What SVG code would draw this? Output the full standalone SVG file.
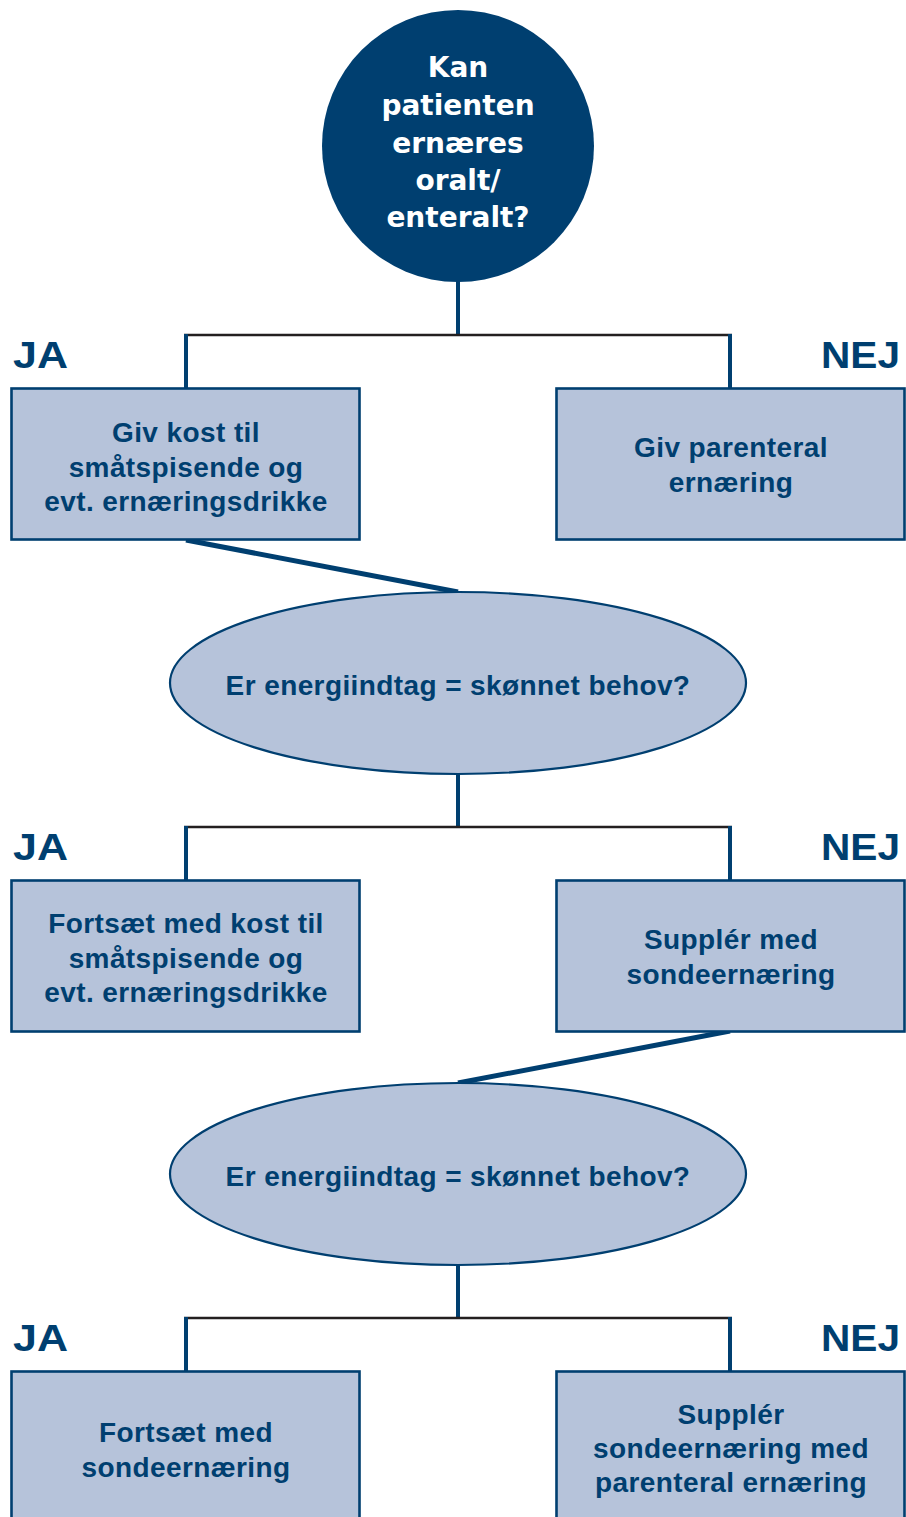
<svg xmlns="http://www.w3.org/2000/svg" width="906" height="1517" viewBox="0 0 906 1517">
<style>
.box{fill:#b6c3da;stroke:#003f70;stroke-width:2.6}
.ell{fill:#b6c3da;stroke:#003f70;stroke-width:2.2}
.t{font-family:"Liberation Sans",Arial,sans-serif;font-weight:bold;font-size:28px;fill:#003f70;text-anchor:middle;letter-spacing:0.4px}
.ct{font-family:"DejaVu Sans",Verdana,sans-serif;font-weight:bold;font-size:28px;fill:#ffffff;text-anchor:middle}
.lbl{font-family:"Liberation Sans",Arial,sans-serif;font-weight:bold;font-size:37px;fill:#003f70}
.v{stroke:#003f70;stroke-width:4;fill:none}
.h{stroke:#231f20;stroke-width:2.5;fill:none}
.d{stroke:#003f70;stroke-width:5;fill:none}
</style>
<rect width="906" height="1517" fill="#ffffff"/>
<g id="connectors">
<line class="v" x1="458" y1="280" x2="458" y2="336"/>
<line class="h" x1="184" y1="335" x2="732" y2="335"/>
<line class="v" x1="186" y1="334" x2="186" y2="389"/>
<line class="v" x1="730" y1="334" x2="730" y2="389"/>
<line class="d" x1="186" y1="540" x2="458" y2="592"/>
<line class="v" x1="458" y1="773" x2="458" y2="828"/>
<line class="h" x1="184" y1="827" x2="732" y2="827"/>
<line class="v" x1="186" y1="826" x2="186" y2="881"/>
<line class="v" x1="730" y1="826" x2="730" y2="881"/>
<line class="d" x1="730" y1="1031" x2="458" y2="1083"/>
<line class="v" x1="458" y1="1264" x2="458" y2="1319"/>
<line class="h" x1="184" y1="1318" x2="732" y2="1318"/>
<line class="v" x1="186" y1="1317" x2="186" y2="1372"/>
<line class="v" x1="730" y1="1317" x2="730" y2="1372"/>
</g>
<g id="start">
<circle cx="458" cy="146" r="136" fill="#003f70"/>
<text class="ct" x="458" y="77">Kan</text>
<text class="ct" x="458" y="115">patienten</text>
<text class="ct" x="458" y="152.5">ernæres</text>
<text class="ct" x="458" y="190">oralt/</text>
<text class="ct" x="458" y="227">enteralt?</text>
</g>
<g id="labels">
<text class="lbl" x="13" y="368" textLength="55" lengthAdjust="spacingAndGlyphs">JA</text>
<text class="lbl" x="821" y="368" textLength="79" lengthAdjust="spacingAndGlyphs">NEJ</text>
<text class="lbl" x="13" y="860" textLength="55" lengthAdjust="spacingAndGlyphs">JA</text>
<text class="lbl" x="821" y="860" textLength="79" lengthAdjust="spacingAndGlyphs">NEJ</text>
<text class="lbl" x="13" y="1351" textLength="55" lengthAdjust="spacingAndGlyphs">JA</text>
<text class="lbl" x="821" y="1351" textLength="79" lengthAdjust="spacingAndGlyphs">NEJ</text>
</g>
<g id="box-ja1">
<rect class="box" x="11.5" y="388.5" width="348" height="151"/>
<text class="t" x="186" y="442">Giv kost til</text>
<text class="t" x="186" y="476.5">småtspisende og</text>
<text class="t" x="186" y="511">evt. ernæringsdrikke</text>
</g>
<g id="box-nej1">
<rect class="box" x="556.5" y="388.5" width="348" height="151"/>
<text class="t" x="731" y="457">Giv parenteral</text>
<text class="t" x="731" y="492">ernæring</text>
</g>
<g id="decision1">
<ellipse class="ell" cx="458" cy="683" rx="288" ry="91"/>
<text class="t" x="458" y="695">Er energiindtag = skønnet behov?</text>
</g>
<g id="box-ja2">
<rect class="box" x="11.5" y="880.5" width="348" height="151"/>
<text class="t" x="186" y="933">Fortsæt med kost til</text>
<text class="t" x="186" y="967.5">småtspisende og</text>
<text class="t" x="186" y="1002">evt. ernæringsdrikke</text>
</g>
<g id="box-nej2">
<rect class="box" x="556.5" y="880.5" width="348" height="151"/>
<text class="t" x="731" y="949">Supplér med</text>
<text class="t" x="731" y="984">sondeernæring</text>
</g>
<g id="decision2">
<ellipse class="ell" cx="458" cy="1174" rx="288" ry="91"/>
<text class="t" x="458" y="1186">Er energiindtag = skønnet behov?</text>
</g>
<g id="box-ja3">
<rect class="box" x="11.5" y="1371.5" width="348" height="160"/>
<text class="t" x="186" y="1442">Fortsæt med</text>
<text class="t" x="186" y="1477">sondeernæring</text>
</g>
<g id="box-nej3">
<rect class="box" x="556.5" y="1371.5" width="348" height="160"/>
<text class="t" x="731" y="1423.5">Supplér</text>
<text class="t" x="731" y="1458">sondeernæring med</text>
<text class="t" x="731" y="1492">parenteral ernæring</text>
</g>
</svg>
